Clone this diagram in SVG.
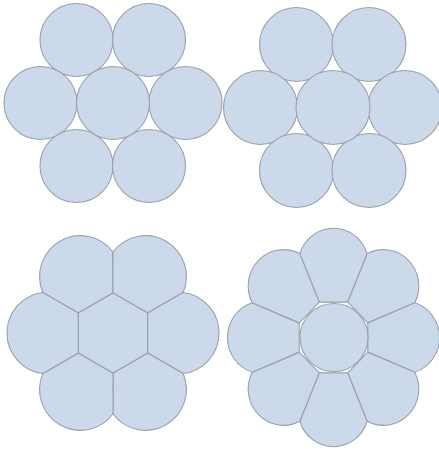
<svg xmlns="http://www.w3.org/2000/svg" xmlns:xlink="http://www.w3.org/1999/xlink" width="439" height="449" viewBox="0 0 439 449">
<style>
.s{fill:#ccd9ea;stroke:#98a1ad;stroke-width:1.1;stroke-linejoin:round}
.ns{vector-effect:non-scaling-stroke}
</style>
<defs>
<path id="hp" d="M-20,-34.64 L-40.5,-70.15 A40.8,40.8 0 0 1 40.5,-70.15 L20,-34.64 Z"/>
<path id="op" d="M-14.2,-34.3 L-33.68,-81.3 A35.3,35.3 0 0 1 33.68,-81.3 L14.2,-34.3 Z"/>
</defs>
<rect width="439" height="449" fill="#ffffff"/>
<g id="group-round-1">
<circle id="c1a" class="s" cx="76.5" cy="40" r="36.5"/>
<circle id="c1b" class="s" cx="149" cy="40" r="36.5"/>
<circle id="c1c" class="s" cx="40.5" cy="103" r="36.5"/>
<circle id="c1e" class="s" cx="185.5" cy="103" r="36.5"/>
<circle id="c1f" class="s" cx="76.5" cy="166" r="36.5"/>
<circle id="c1g" class="s" cx="149" cy="166" r="36.5"/>
<circle id="c1d" class="s" cx="113" cy="103" r="36.5"/>
</g>
<g id="group-round-2">
<circle id="c2a" class="s" cx="296.5" cy="44.5" r="37"/>
<circle id="c2b" class="s" cx="369" cy="44.5" r="37"/>
<circle id="c2c" class="s" cx="260.5" cy="107.5" r="37"/>
<circle id="c2e" class="s" cx="405" cy="107.5" r="37"/>
<circle id="c2f" class="s" cx="296.5" cy="170.5" r="37"/>
<circle id="c2g" class="s" cx="369" cy="170.5" r="37"/>
<circle id="c2d" class="s" cx="333" cy="107.5" r="37"/>
</g>
<g id="group-hex" transform="translate(113,333)">
<use id="h1" class="s" href="#hp" xlink:href="#hp" transform="rotate(-30)"/>
<use id="h2" class="s" href="#hp" xlink:href="#hp" transform="rotate(30)"/>
<use id="h3" class="s" href="#hp" xlink:href="#hp" transform="rotate(90)"/>
<use id="h4" class="s" href="#hp" xlink:href="#hp" transform="rotate(150)"/>
<use id="h5" class="s" href="#hp" xlink:href="#hp" transform="rotate(210)"/>
<use id="h6" class="s" href="#hp" xlink:href="#hp" transform="rotate(270)"/>
<polygon id="h0" class="s" points="0,-40 34.64,-20 34.64,20 0,40 -34.64,20 -34.64,-20"/>
</g>
<g id="group-oct">
<g transform="translate(333.5,337.5) scale(1,1.03)">
<use id="o1" class="s ns" href="#op" xlink:href="#op" transform="rotate(0)"/>
<use id="o2" class="s ns" href="#op" xlink:href="#op" transform="rotate(45)"/>
<use id="o3" class="s ns" href="#op" xlink:href="#op" transform="rotate(90)"/>
<use id="o4" class="s ns" href="#op" xlink:href="#op" transform="rotate(135)"/>
<use id="o5" class="s ns" href="#op" xlink:href="#op" transform="rotate(180)"/>
<use id="o6" class="s ns" href="#op" xlink:href="#op" transform="rotate(225)"/>
<use id="o7" class="s ns" href="#op" xlink:href="#op" transform="rotate(270)"/>
<use id="o8" class="s ns" href="#op" xlink:href="#op" transform="rotate(315)"/>
</g>
<circle id="o0" class="s" cx="334" cy="337.5" r="34"/>
</g>
</svg>
